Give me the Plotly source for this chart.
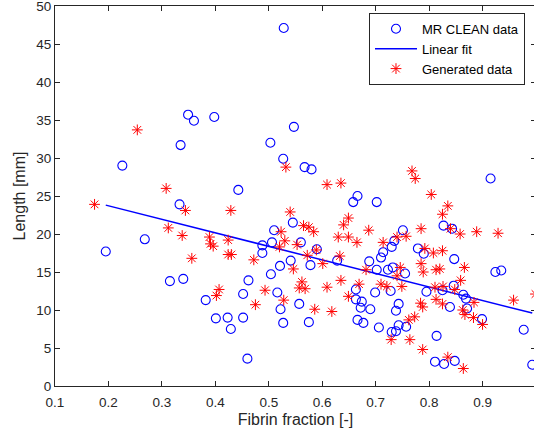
import plotly.graph_objects as go

# MR CLEAN data (blue circles)
mr_x = [0.528, 0.349, 0.360, 0.398, 0.335, 0.226, 0.503, 0.547, 0.527, 0.567,
        0.580, 0.443, 0.333, 0.915, 0.666, 0.658, 0.702, 0.545, 0.827, 0.843,
        0.751, 0.510, 0.560, 0.506, 0.488, 0.488, 0.590, 0.779, 0.790, 0.735,
        0.730, 0.714, 0.710, 0.578, 0.628, 0.688, 0.702, 0.723, 0.732, 0.755,
        0.847, 0.924, 0.935, 0.541, 0.521, 0.504, 0.462, 0.452, 0.516, 0.522,
        0.527, 0.557, 0.575, 0.663, 0.699, 0.728, 0.795, 0.825, 0.846, 0.864,
        0.869, 0.871, 0.663, 0.674, 0.672, 0.690, 0.743, 0.738, 0.839, 0.666,
        0.677, 0.706, 0.730, 0.738, 0.743, 0.757, 0.899, 0.814, 0.977, 0.811,
        0.828, 0.848, 0.993, 0.195, 0.268, 0.315, 0.340, 0.382, 0.401, 0.423,
        0.452, 0.429, 0.460]
mr_y = [47.1, 35.7, 34.9, 35.4, 31.7, 29.0, 32.0, 34.1, 29.9, 28.8,
        28.5, 25.8, 23.9, 27.3, 25.0, 24.2, 24.2, 21.5, 21.1, 20.7,
        20.5, 20.5, 18.9, 18.9, 18.5, 17.5, 18.0, 18.1, 17.4, 19.1,
        18.3, 17.6, 16.9, 15.9, 16.5, 16.4, 15.3, 15.3, 15.6, 14.8,
        16.7, 15.0, 15.2, 16.5, 15.8, 14.7, 13.9, 12.1, 12.3, 10.1,
        8.3, 10.8, 8.4, 12.7, 12.3, 12.5, 12.4, 12.6, 13.2, 12.0,
        11.5, 10.2, 11.4, 11.1, 10.3, 10.1, 10.8, 9.9, 10.4, 8.7,
        8.3, 7.7, 7.1, 7.2, 8.0, 7.8, 8.8, 6.6, 7.4, 3.2,
        2.9, 3.3, 2.8, 17.7, 19.3, 13.8, 14.1, 11.3, 8.9, 9.0,
        9.0, 7.5, 3.6]

# Linear fit end points
fit_x = [0.195, 0.993]
fit_y = [23.8, 9.6]

# Generated data (red asterisks)
gen_x = [0.254, 0.308, 0.532, 0.174, 0.609, 0.635, 0.768, 0.774, 0.804, 0.344,
         0.429, 0.540, 0.312, 0.338, 0.389, 0.391, 0.396, 0.424, 0.424, 0.430,
         0.356, 0.472, 0.523, 0.530, 0.520, 0.553, 0.546, 0.562, 0.557, 0.407,
         0.402, 0.493, 0.475, 0.528, 0.565, 0.575, 0.584, 0.630, 0.649, 0.640,
         0.687, 0.649, 0.665, 0.785, 0.714, 0.740, 0.757, 0.792, 0.808, 0.633,
         0.835, 0.825, 0.840, 0.858, 0.889, 0.929, 0.572, 0.589, 0.601, 0.682,
         0.746, 0.740, 0.785, 0.789, 0.813, 0.820, 0.825, 0.866, 0.859, 0.568,
         0.609, 0.635, 0.669, 0.710, 0.721, 0.749, 0.811, 0.826, 0.848, 0.649,
         0.586, 0.618, 0.784, 0.788, 0.813, 0.825, 0.958, 0.999, 0.762, 0.773,
         0.729, 0.764, 0.788, 0.835, 0.864, 0.884, 0.863, 0.867, 0.883, 0.900]
gen_y = [33.7, 26.0, 28.8, 23.9, 26.5, 26.7, 28.3, 27.3, 25.2, 23.1,
         23.1, 22.9, 20.8, 19.8, 19.6, 18.7, 18.4, 19.2, 17.3, 17.3,
         16.8, 16.6, 20.3, 19.1, 18.3, 18.6, 15.4, 13.7, 12.9, 12.7,
         11.9, 12.6, 10.7, 11.3, 21.1, 20.9, 20.3, 19.6, 22.1, 21.2,
         20.5, 19.6, 18.9, 20.7, 18.9, 19.6, 19.7, 18.1, 17.5, 17.1,
         23.7, 22.6, 20.7, 20.0, 20.3, 20.1, 17.2, 17.9, 16.1, 15.3,
         15.6, 14.5, 16.1, 15.0, 15.3, 15.4, 17.8, 15.6, 13.9, 12.8,
         13.0, 13.9, 13.4, 13.4, 13.1, 13.1, 13.0, 13.1, 12.7, 11.8,
         10.1, 9.8, 10.9, 10.4, 11.4, 10.8, 11.3, 12.1, 8.7, 9.1,
         6.1, 6.1, 4.8, 3.8, 2.3, 11.0, 10.0, 9.4, 9.0, 8.1]

x_ticks = [0.1, 0.2, 0.3, 0.4, 0.5, 0.6, 0.7, 0.8, 0.9]
x_tick_text = ["0.1", "0.2", "0.3", "0.4", "0.5", "0.6", "0.7", "0.8", "0.9"]
y_ticks = [0, 5, 10, 15, 20, 25, 30, 35, 40, 45, 50]

FONT = "Liberation Sans, Arial, Helvetica, sans-serif"
AX = "#262626"

fig = go.Figure()
fig.add_trace(go.Scatter(
    x=mr_x, y=mr_y, mode="markers", name="MR CLEAN data",
    marker=dict(symbol="circle-open", size=9, color="#0000ff",
                line=dict(width=1.1, color="#0000ff")),
))
fig.add_trace(go.Scatter(
    x=fit_x, y=fit_y, mode="lines", name="Linear fit",
    line=dict(color="#0000ff", width=1.5),
))
fig.add_trace(go.Scatter(
    x=gen_x, y=gen_y, mode="markers", name="Generated data",
    marker=dict(symbol="asterisk-open", size=9, color="#ff0000",
                line=dict(width=1.0, color="#ff0000")),
))

fig.update_layout(
    width=536, height=438,
    margin=dict(l=55, r=0, t=6, b=52),
    paper_bgcolor="white", plot_bgcolor="white",
    font=dict(family=FONT, size=13, color=AX),
    showlegend=True,
    legend=dict(
        x=0.6528, y=0.982, xanchor="left", yanchor="top",
        bgcolor="white", bordercolor="#262626", borderwidth=1,
        font=dict(family=FONT, size=13, color="black"),
        tracegroupgap=0, itemwidth=42,
    ),
)
fig.update_xaxes(
    range=[0.1, 1.0], tickvals=x_ticks, ticktext=x_tick_text,
    showgrid=False, zeroline=False,
    showline=True, linecolor=AX, linewidth=1, mirror="ticks",
    ticks="inside", ticklen=5, tickcolor=AX, ticklabeloverflow="allow",
    ticklabelstandoff=4,
    tickfont=dict(family=FONT, size=13.5, color=AX),
    title=dict(text="Fibrin fraction [-]", font=dict(family=FONT, size=16, color=AX), standoff=4),
)
fig.update_yaxes(
    range=[0, 50], tickvals=y_ticks,
    showgrid=False, zeroline=False,
    showline=True, linecolor=AX, linewidth=1, mirror="ticks",
    ticks="inside", ticklen=5, tickcolor=AX, ticklabeloverflow="allow",
    tickfont=dict(family=FONT, size=13.5, color=AX),
    title=dict(text="Length [mm]", font=dict(family=FONT, size=16, color=AX), standoff=6),
)

fig.write_html(
    "out.html",
    config={"displayModeBar": False},
    post_script="document.body.style.margin='0';document.body.style.overflow='hidden';",
)
